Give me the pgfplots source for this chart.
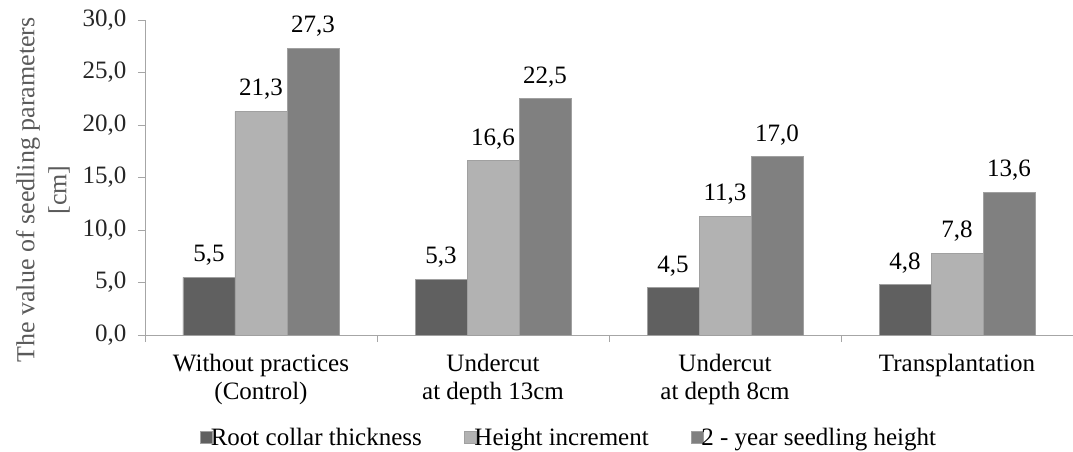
\documentclass[border=0pt]{standalone}
\usepackage{pgfplots}
\pgfplotsset{compat=1.18}
\usepackage{fontspec}
\setmainfont{Liberation Serif}
\definecolor{cDark}{HTML}{606060}
\definecolor{cLight}{HTML}{B2B2B2}
\definecolor{cMid}{HTML}{808080}
\definecolor{axiscol}{HTML}{A6A6A6}
\definecolor{edgecol}{HTML}{A0A0A0}
\definecolor{labcol}{HTML}{5A5A5A}
\begin{document}
\begin{tikzpicture}
\begin{axis}[
  scale only axis, width=928pt, height=315pt,
  font=\fontsize{25}{28}\selectfont,
  xmin=-0.5, xmax=3.5, ymin=0, ymax=30,
  ybar=0pt, bar width=52pt,
  axis lines=left,
  axis line style={-, draw=axiscol, line width=0.8pt},
  tick align=outside,
  major tick length=7pt, minor tick length=7pt,
  tick style={draw=axiscol, line width=0.8pt},
  every major x tick/.style={draw=none},
  xtick={0,1,2,3},
  minor xtick={-0.5,0.5,1.5,2.5,3.5},
  xticklabels={{Without practices\\(Control)},{Undercut\\at depth 13cm},{Undercut\\at depth 8cm},{Transplantation}},
  xticklabel style={align=center, text=black, yshift=-9pt},
  ytick={0,5,...,30},
  yticklabel style={text=black!85, xshift=-8pt},
  /pgf/number format/assume math mode=true,
  yticklabel={\pgfmathprintnumber[fixed,fixed zerofill,precision=1,use comma]{\tick}},
  nodes near coords={\pgfmathprintnumber[fixed,fixed zerofill,precision=1,use comma]{\pgfplotspointmeta}},
  every node near coord/.append style={text=black, yshift=8pt},
  legend columns=-1,
  legend style={at={(axis description cs:0.457,-0.325)}, anchor=center, draw=none, fill=none,
     /tikz/every even column/.append style={column sep=40pt},
     /tikz/every odd column/.append style={column sep=-4pt}},
  legend image code/.code={\fill[#1] (0pt,-6pt) rectangle (12pt,6pt);},
]
\addplot[fill=cDark, draw=edgecol, line width=0.6pt] coordinates {(0,5.5) (1,5.3) (2,4.5) (3,4.8)};
\addplot[fill=cLight, draw=edgecol, line width=0.6pt] coordinates {(0,21.3) (1,16.6) (2,11.3) (3,7.8)};
\addplot[fill=cMid, draw=edgecol, line width=0.6pt] coordinates {(0,27.3) (1,22.5) (2,17.0) (3,13.6)};
\legend{Root collar thickness, Height increment, 2 - year seedling height}
\end{axis}
\node[rotate=90, align=center, text=labcol, font=\fontsize{26}{32}\selectfont]
  at ([xshift=-102pt,yshift=145pt]current axis.south west) {The value of seedling parameters\\{}[cm]};
\pgfresetboundingbox
\path[use as bounding box] ([xshift=-145pt,yshift=-117pt]current axis.south west) rectangle ([xshift=928pt,yshift=335pt]current axis.south west);
\end{tikzpicture}
\end{document}
